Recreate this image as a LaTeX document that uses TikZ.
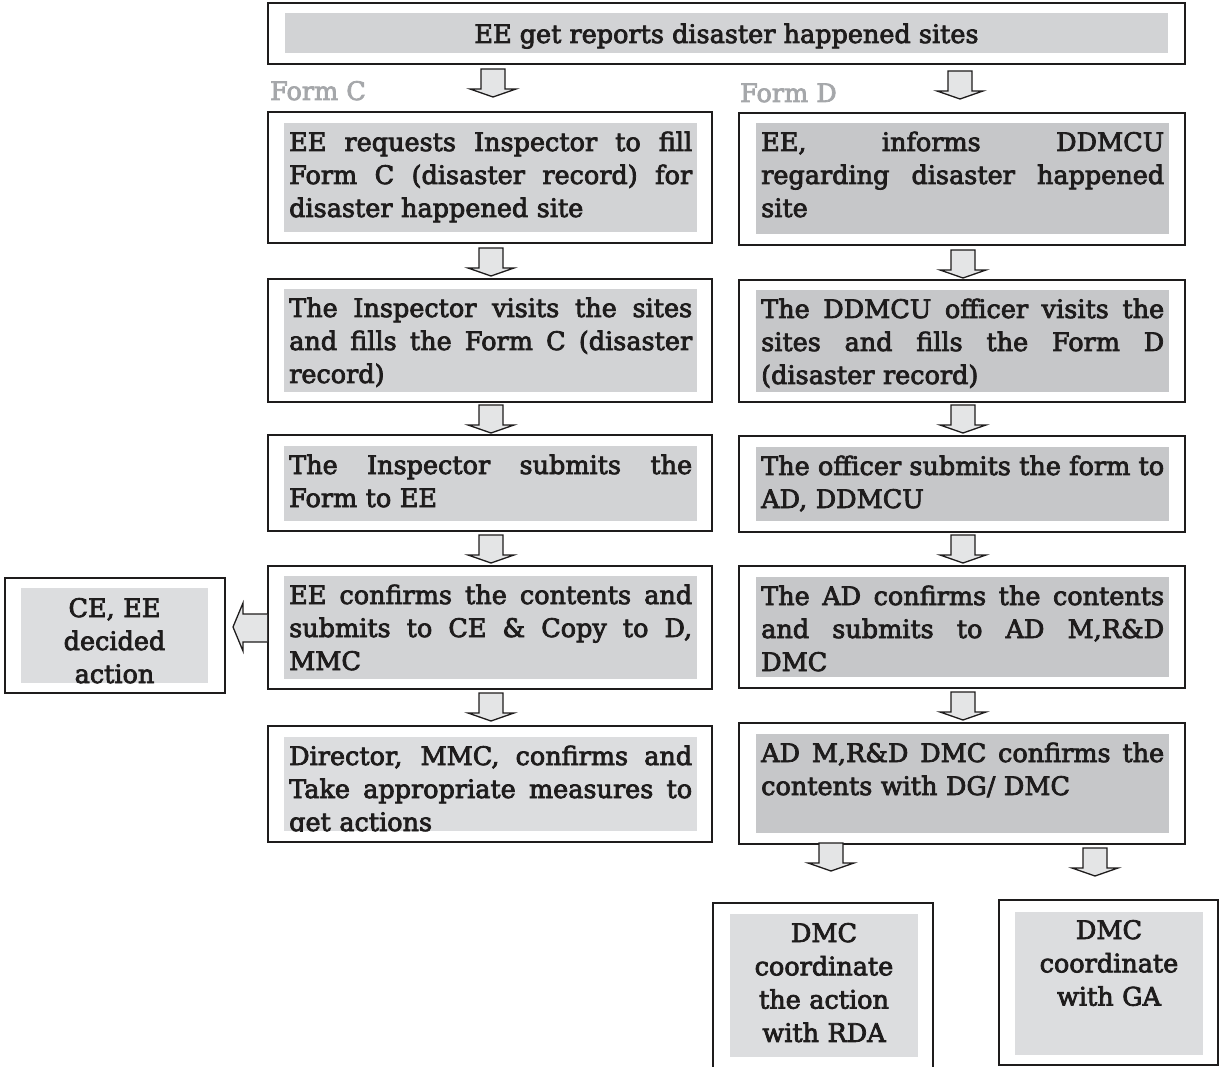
\documentclass[tikz,border=0pt]{standalone}
\usepackage{fontspec}
\setmainfont{DejaVu Serif}[FakeBold=3]
\usetikzlibrary{fit}
\definecolor{ink}{HTML}{1E1C1C}
\definecolor{fillL}{HTML}{D2D3D5}
\definecolor{fillLL}{HTML}{DCDDDF}
\definecolor{fillR}{HTML}{C6C7C9}
\definecolor{arrowfill}{HTML}{E4E5E6}
\definecolor{formgrey}{HTML}{A5A7AA}
\newcommand{\fsz}{\fontsize{25.5}{33}\selectfont}
\newcommand{\jl}[1]{\makebox[403pt][s]{\spaceskip=0pt\xspaceskip=0pt #1}}
\tikzset{
  outerbox/.style={draw=ink, line width=2pt, fill=white, inner sep=0pt},
  innerL/.style={fill=fillL, inner sep=0pt},
  innerLL/.style={fill=fillLL, inner sep=0pt},
  innerR/.style={fill=fillR, inner sep=0pt},
  bodytext/.style={font=\fsz, text=ink, inner sep=0pt, anchor=base west, text width=403pt, align=left},
  centertext/.style={font=\fsz, text=ink, inner sep=0pt, anchor=base, text width=185pt, align=center},
  formlabel/.style={font=\fsz, text=formgrey, inner sep=0pt, anchor=base west},
  blockarrow/.style={draw=ink, line width=1.3pt, fill=arrowfill, line join=miter},
  darr/.pic={\draw[blockarrow] (-12,0) -- (12,0) -- (12,20) -- (23,20) -- (0,28) -- (-23,20) -- (-12,20) -- cycle;}
}
\begin{document}
\begin{tikzpicture}[x=1pt,y=-1pt]
\useasboundingbox (0,0) rectangle (1219,1067);
% title
\node[outerbox, fit={(268,3)(1185,64)}] (T) {};
\node[innerL, fit={(285,13)(1168,53)}] (Ti) {};
\node[font=\fsz, text=ink, inner sep=0pt, anchor=base] (Tt) at (726.5,43) {EE get reports disaster happened sites};
% form labels
\node[formlabel] (FC) at (270,100) {Form C};
\node[formlabel] (FD) at (740,102) {Form D};
% left column
\node[outerbox, fit={(268,112)(712,243)}] (L1) {};
\node[innerL, fit={(284,123)(697,232)}] (L1i) {};
\node[bodytext] (L1t) at (289,151) {\jl{EE requests Inspector to fill}\\\jl{Form C (disaster record) for}\\disaster happened site};
\node[outerbox, fit={(268,279)(712,402)}] (L2) {};
\node[innerL, fit={(284,289)(697,392)}] (L2i) {};
\node[bodytext] (L2t) at (289,317) {\jl{The Inspector visits the sites}\\\jl{and fills the Form C (disaster}\\record)};
\node[outerbox, fit={(268,435)(712,531)}] (L3) {};
\node[innerL, fit={(284,446)(697,521)}] (L3i) {};
\node[bodytext] (L3t) at (289,474) {\jl{The Inspector submits the}\\Form to EE};
\node[outerbox, fit={(268,566)(712,689)}] (L4) {};
\node[innerL, fit={(284,576)(697,679)}] (L4i) {};
\node[bodytext] (L4t) at (289,604) {\jl{EE confirms the contents and}\\\jl{submits to CE \& Copy to D,}\\MMC};
\node[outerbox, fit={(268,726)(712,842)}] (L5) {};
\node[innerLL, fit={(284,737)(697,831)}] (L5i) {};
\begin{scope}
\clip (284,737) rectangle (697,831);
\node[bodytext] (L5t) at (289,765) {\jl{Director, MMC, confirms and}\\\jl{Take appropriate measures to}\\get actions};
\end{scope}
% right column
\node[outerbox, fit={(739,113)(1185,245)}] (R1) {};
\node[innerR, fit={(756,123)(1169,234)}] (R1i) {};
\node[bodytext] (R1t) at (761,151) {\jl{EE, informs DDMCU}\\\jl{regarding disaster happened}\\site};
\node[outerbox, fit={(739,280)(1185,402)}] (R2) {};
\node[innerR, fit={(756,290)(1169,392)}] (R2i) {};
\node[bodytext] (R2t) at (761,318) {\jl{The DDMCU officer visits the}\\\jl{sites and fills the Form D}\\(disaster record)};
\node[outerbox, fit={(739,436)(1185,532)}] (R3) {};
\node[innerR, fit={(756,447)(1169,521)}] (R3i) {};
\node[bodytext] (R3t) at (761,475) {\jl{The officer submits the form to}\\AD, DDMCU};
\node[outerbox, fit={(739,566)(1185,688)}] (R4) {};
\node[innerR, fit={(756,577)(1169,677)}] (R4i) {};
\node[bodytext] (R4t) at (761,605) {\jl{The AD confirms the contents}\\\jl{and submits to AD M,R\&D}\\DMC};
\node[outerbox, fit={(739,723)(1185,844)}] (R5) {};
\node[innerR, fit={(756,734)(1169,833)}] (R5i) {};
\node[bodytext] (R5t) at (761,762) {\jl{AD M,R\&D DMC confirms the}\\contents with DG/ DMC};
% side box
\node[outerbox, fit={(5,578)(225,693)}] (S) {};
\node[innerLL, fit={(21,588)(208,683)}] (Si) {};
\begin{scope}
\clip (21,588) rectangle (208,683);
\node[centertext] (St) at (114.5,617) {CE, EE\\decided\\action};
\end{scope}
% bottom boxes
\node[outerbox, fit={(713,903)(933,1075)}] (B1) {};
\node[innerLL, fit={(730,914)(918,1057)}] (B1i) {};
\node[centertext, font=\fontsize{25.5}{33.3}\selectfont] (B1t) at (824,942) {DMC\\coordinate\\the action\\with RDA};
\node[outerbox, fit={(999,900)(1218,1065)}] (B2) {};
\node[innerLL, fit={(1015,912)(1203,1055)}] (B2i) {};
\node[centertext, font=\fontsize{25.5}{33.3}\selectfont] (B2t) at (1109,939) {DMC\\coordinate\\with GA};
% block arrows
\pic at (493,69) {darr};
\pic at (960,71) {darr};
\pic at (491,248) {darr};
\pic at (963,250) {darr};
\pic at (491,405) {darr};
\pic at (963,405) {darr};
\pic at (491,535) {darr};
\pic at (963,535) {darr};
\pic at (491,693) {darr};
\pic at (963,692) {darr};
\pic at (831,843) {darr};
\pic at (1095,848) {darr};
\draw[blockarrow] (L4.west |- 0,614) -- (243,614) -- (243,603) -- (233,627) -- (243,651) -- (243,642) -- (L4.west |- 0,642);
\end{tikzpicture}
\end{document}
